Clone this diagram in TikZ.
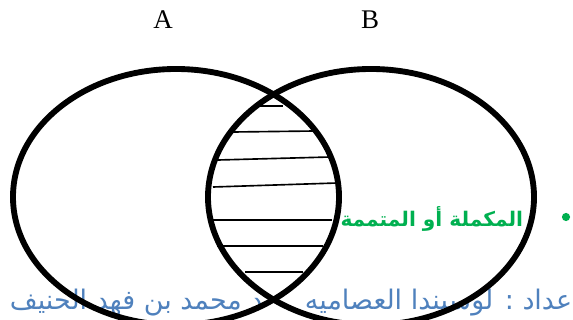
\documentclass[tikz,border=0pt]{standalone}
\usepackage{fontspec}
\setmainfont{Liberation Serif}
\newfontfamily\arabicfont[Script=Arabic]{DejaVu Sans}
\TeXXeTstate=1
\definecolor{setgreen}{RGB}{0,176,80}
\definecolor{nameblue}{RGB}{79,129,189}

\begin{document}
\begin{tikzpicture}[x=0.03cm, y=-0.03cm, line width=5pt,
  lbl/.style={font=\fontsize{23}{23}\selectfont, inner sep=0pt, anchor=base},
  ar/.style={font=\arabicfont\fontsize{23}{23}\selectfont, inner sep=0pt},
  hatch/.style={line width=1.4pt}]
  \useasboundingbox (0,0) rectangle (573,320);
  \clip (0,0) rectangle (573,320);
  \node[lbl] (labA) at (163,29) {A};
  \node[lbl] (labB) at (370,29) {B};
  % texts under the sets
  \node[ar, text=setgreen, anchor=base east, font=\arabicfont\bfseries\fontsize{17.2}{18}\selectfont] (compl) at (526,226) {\beginR المكملة أو المتممة:\endR};
  \node[circle, fill=setgreen, inner sep=0pt, minimum size=7pt] (dot) at (566,217) {};
  \node[ar, text=nameblue, anchor=base west] (prep) at (302,309) {\beginR إعداد : لوسيندا العصاميه\endR};
  \node[ar, text=nameblue, anchor=base west] (supv) at (7,309) {\beginR د محمد بن فهد الحنيف\endR};
  % hatching of A and B
  \foreach \xa/\ya/\xb/\yb in {258/106/283/106, 233/132/315/131, 218/160/330/157, 213/187/337/183,
    208/220/332/220, 217/246/323/246, 245/272/303/272}
    \draw[hatch] (\xa,\ya) -- (\xb,\yb);
  \draw (176,197) ellipse [x radius=4.89cm, y radius=3.84cm];
  \draw (371,197) ellipse [x radius=4.89cm, y radius=3.84cm];
\end{tikzpicture}
\end{document}
